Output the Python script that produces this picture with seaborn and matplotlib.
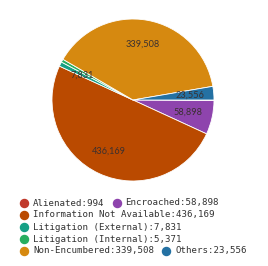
import matplotlib
matplotlib.use("Agg")
import matplotlib.pyplot as plt
import seaborn as sns
from matplotlib.lines import Line2D

categories = ["Alienated", "Encroached", "Information Not Available",
              "Litigation (External)", "Litigation (Internal)",
              "Non-Encumbered", "Others"]
values = [994, 58898, 436169, 7831, 5371, 339508, 23556]
colors = ["#c0392b", "#8e44ad", "#ba4a00", "#16a085", "#27ae60", "#d68910", "#2471a3"]

sns.set_theme(style="white")
plt.rcParams['font.family'] = ['DejaVu Sans']

W, H = 268, 266
fig = plt.figure(figsize=(W / 100, H / 100), dpi=100)
fig.patch.set_facecolor("white")

cx, cy, r = 133, 100, 81
ax = fig.add_axes([(cx - r) / W, (H - cy - r) / H, 2 * r / W, 2 * r / H])
total = sum(values)


def fmt(pct):
    v = round(pct * total / 100)
    return f"{v:,}" if v >= 7000 else ""


wedges, texts, autotexts = ax.pie(
    values, colors=colors, startangle=0, counterclock=False,
    autopct=fmt, pctdistance=0.7,
    wedgeprops=dict(linewidth=0.6, edgecolor="white"),
    textprops=dict(color="#3a3030", fontsize=6.6, family="Lato"))
ax.set_xlim(-1.0, 1.0)
ax.set_ylim(-1.0, 1.0)
ax.set_aspect("equal")

renderer = fig.canvas.get_renderer()
x0 = 24
x = x0
y = 203
row_h = 12
max_x = 256
for cat, val, col in zip(categories, values, colors):
    label = f"{cat}:{val:,}"
    t = fig.text(0, 0, label, fontsize=6.6, family="DejaVu Sans Mono",
                 va="center", ha="left", color="#333333")
    w = t.get_window_extent(renderer).width
    item_w = 9 + w
    if x + item_w > max_x and x > x0:
        x = x0
        y += row_h
    fig.add_artist(Line2D([x / W], [1 - y / H], marker="o", markersize=5.8,
                          color=col, linestyle="", transform=fig.transFigure))
    t.set_position(((x + 9) / W, 1 - y / H))
    x += item_w + 12

fig.savefig("out.png", dpi=100)
